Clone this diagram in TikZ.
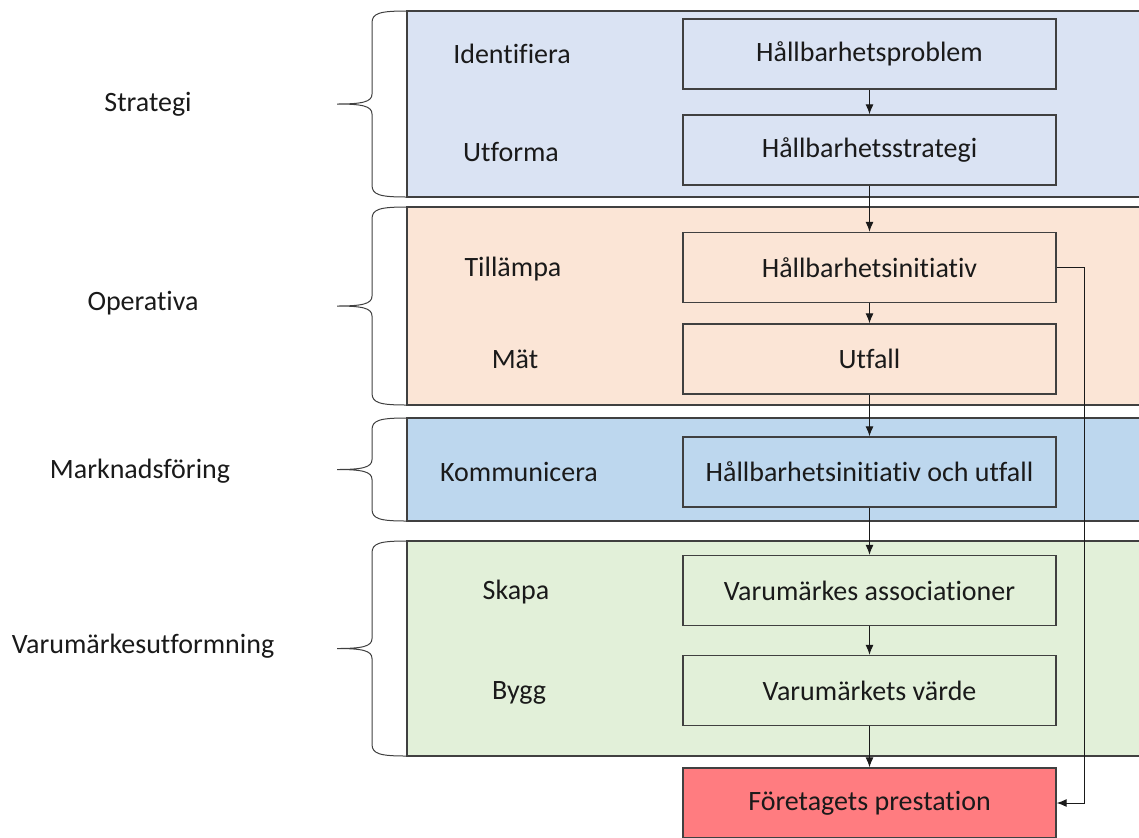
\documentclass[tikz,border=0pt]{standalone}
\usepackage{fontspec}
\setmainfont{Carlito}[Ligatures={NoCommon}]
\usetikzlibrary{arrows.meta}
\definecolor{stratbg}{HTML}{DAE3F3}
\definecolor{operbg}{HTML}{FBE5D6}
\definecolor{markbg}{HTML}{BDD7EE}
\definecolor{varubg}{HTML}{E2F0D9}
\definecolor{presbg}{HTML}{FF7C80}
\definecolor{edge}{HTML}{404040}
\definecolor{ink}{HTML}{1A1A1A}

\begin{document}
\begin{tikzpicture}[x=0.5pt,y=-0.5pt,
    font=\fontsize{14}{16}\selectfont, text=ink,
    box/.style={draw=edge, line width=0.7pt, minimum width=186.5pt,
      minimum height=35pt, inner sep=0pt},
    band/.style={draw=edge, line width=0.8pt},
    brc/.style={draw=edge, line width=0.5pt},
    arr/.style={-{Latex[length=5pt,width=4pt]}, draw=ink, line width=0.5pt}]
    \useasboundingbox (0,0) rectangle (1139,837);
    \clip (0,0) rectangle (1139,837);

    % bands
    \foreach \t/\b/\c in {11/197/stratbg, 207/405/operbg, 418/521/markbg, 541/756/varubg}{
        \fill[\c] (407,\t) rectangle (1150,\b);
        \draw[band] (1150,\t) -| (407,\b) -- (1150,\b);
        \pgfmathsetmacro{\m}{(\t+\b)/2}
        \draw[brc] (407,\t) .. controls (380,\t) and (372,\t+2) .. (372,\t+12)
            -- (372,\m-10) .. controls (372,\m-2) and (362,\m) .. (337,\m)
            .. controls (362,\m) and (372,\m+2) .. (372,\m+10)
            -- (372,\b-12) .. controls (372,\b-2) and (380,\b) .. (407,\b);
    }

    \node (strategi) at (148,104) {Strategi};
    \node (operativa) at (143,303) {Operativa};
    \node (marknad) at (140,471) {Marknadsföring};
    \node (varumarke) at (143,646) {Varumärkesutformning};

    \node (identifiera) at (512,54) {Identifiera};
    \node (utforma) at (511,152) {Utforma};
    \node (tillampa) at (513,269) {Tillämpa};
    \node (mat) at (515,359) {Mät};
    \node (kommunicera) at (519,472) {Kommunicera};
    \node (skapa) at (516,592) {Skapa};
    \node (bygg) at (519,693) {Bygg};

    \node[box, fill=stratbg] (problem) at (869.5,54) {\raisebox{-1pt}{Hållbarhetsproblem}};
    \node[box, fill=stratbg] (strategy) at (869.5,150) {\raisebox{-1pt}{Hållbarhetsstrategi}};
    \node[box, fill=operbg] (initiativ) at (869.5,267.5) {\raisebox{-1pt}{Hållbarhetsinitiativ}};
    \node[box, fill=operbg] (utfall) at (869.5,359) {\raisebox{-1pt}{Utfall}};
    \node[box, fill=markbg] (komm) at (869.5,472) {\raisebox{-1pt}{Hållbarhetsinitiativ och utfall}};
    \node[box, fill=varubg] (assoc) at (869.5,590.5) {\raisebox{-1pt}{Varumärkes associationer}};
    \node[box, fill=varubg] (varde) at (869.5,690.5) {\raisebox{-1pt}{Varumärkets värde}};
    \node[box, fill=presbg] (prest) at (869.5,803) {\raisebox{-1pt}{Företagets prestation}};

    \foreach \a/\b in {problem/strategy, strategy/initiativ, initiativ/utfall,
        utfall/komm, komm/assoc, assoc/varde, varde/prest}
        \draw[arr] (\a) -- (\b);
    \draw[arr] (initiativ.east) -- ++(28,0) |- (prest.east);
\end{tikzpicture}
\end{document}
